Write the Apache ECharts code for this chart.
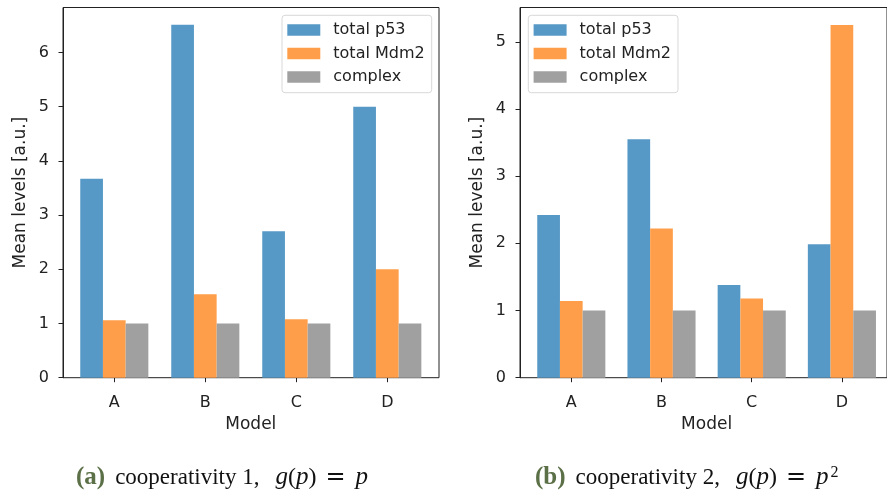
<!DOCTYPE html>
<html>
<head>
<meta charset="utf-8">
<script src="https://cdn.jsdelivr.net/npm/echarts@6/dist/echarts.min.js"></script>
<style>
  html, body { margin: 0; padding: 0; background: #ffffff; }
  #chart { width: 887px; height: 493px; }
</style>
</head>
<body>
<div id="chart"></div>
<script>
// Model variants on the x axis
const models = ['A', 'B', 'C', 'D'];
const seriesNames = ['total p53', 'total Mdm2', 'complex'];

// Panel (a): cooperativity 1
const p53Coop1 = [3.67, 6.51, 2.70, 5.00];
const mdm2Coop1 = [1.06, 1.54, 1.08, 2.00];
const complexCoop1 = [1.00, 1.00, 1.00, 1.00];

// Panel (b): cooperativity 2
const p53Coop2 = [2.42, 3.55, 1.38, 1.985];
const mdm2Coop2 = [1.14, 2.22, 1.18, 5.25];
const complexCoop2 = [1.00, 1.00, 1.00, 1.00];

const colors = ['#5799C6', '#FF9E4A', '#A0A0A0'];
const font = 'DejaVu Sans';

const chart = echarts.init(document.getElementById('chart'), null, { renderer: 'canvas' });

// Each panel uses a framed grid (axes box + y ticks) and an inner grid whose
// category bands are centred on the tick positions.
function panel(frameLeft, dataLeft, yMax) {
  return {
    frame: { left: frameLeft, top: 7.5, width: 376, height: 370.2, show: true,
             borderColor: '#222', borderWidth: 1, backgroundColor: 'transparent' },
    data: { left: dataLeft, top: 7.5, width: 364, height: 370.2 },
    yMax: yMax
  };
}
const panels = [panel(63, 68.8, 6.83), panel(520, 526.2, 5.51)];

const grids = [];
const xAxes = [];
const yAxes = [];
panels.forEach((p, i) => {
  const fi = i * 2, di = i * 2 + 1;
  grids.push(p.frame, p.data);
  xAxes.push(
    { gridIndex: fi, type: 'value', min: 0, max: 1, show: false },
    { gridIndex: di, type: 'category', data: models,
      axisLine: { show: false },
      axisTick: { show: true, alignWithLabel: true, length: 4.5, lineStyle: { color: '#222', width: 1 } },
      axisLabel: { fontFamily: font, fontSize: 16, color: '#222', margin: 17 },
      name: 'Model', nameLocation: 'middle', nameGap: 38,
      nameTextStyle: { fontFamily: font, fontSize: 17, color: '#222' } }
  );
  yAxes.push(
    { gridIndex: fi, type: 'value', min: 0, max: p.yMax, interval: 1,
      axisLine: { show: true, lineStyle: { color: '#222', width: 1 } },
      axisTick: { show: true, length: 4.5, lineStyle: { color: '#222', width: 1 } },
      axisLabel: { fontFamily: font, fontSize: 16, color: '#222', margin: 14,
                   showMaxLabel: false },
      splitLine: { show: false },
      name: 'Mean levels [a.u.]', nameLocation: 'middle', nameGap: 34, nameRotate: 90,
      nameTextStyle: { fontFamily: font, fontSize: 17, color: '#222' } },
    { gridIndex: di, type: 'value', min: 0, max: p.yMax, show: false }
  );
});

function bar(name, values, panelIdx, colorIdx) {
  return {
    name: name, type: 'bar', data: values,
    xAxisIndex: panelIdx * 2 + 1, yAxisIndex: panelIdx * 2 + 1,
    barWidth: 22.7, barGap: '0%',
    itemStyle: { color: colors[colorIdx] },
    emphasis: { disabled: true }
  };
}

function legend(left) {
  return {
    data: seriesNames, orient: 'vertical', left: left, top: 15.3,
    icon: 'rect', itemWidth: 33, itemHeight: 11.3, itemGap: 7.5,
    padding: [6.7, 7, 7.7, 5.3],
    borderColor: '#d8d8d8', borderWidth: 1, borderRadius: 3,
    backgroundColor: 'rgba(255,255,255,0.8)',
    selectedMode: false,
    textStyle: { fontFamily: font, fontSize: 16, color: '#222', lineHeight: 16, padding: [0, 0, 0, 8] }
  };
}

// Sub-figure captions: bold label, roman text, italic math
const capFont = 'Liberation Serif';
const capSize = 23;
const capRich = {
  lab: { fontFamily: capFont, fontSize: 25, fontWeight: 'bold', color: '#5B7047', padding: [0, 10, 0, 0] },
  c: { fontFamily: capFont, fontSize: capSize, fontWeight: 'normal', color: '#111', padding: [0, 16, 0, 0] },
  t: { fontFamily: capFont, fontSize: 24, fontWeight: 'normal', color: '#111' },
  m: { fontFamily: capFont, fontSize: 25, fontWeight: 'normal', fontStyle: 'italic', color: '#111' },
  eq: { fontFamily: 'DejaVu Serif', fontSize: 24, fontWeight: 'normal', color: '#111', padding: [0, 10, 0, 9] },
  sup: { fontFamily: capFont, fontSize: 16, fontWeight: 'normal', color: '#111', verticalAlign: 'top', padding: [0, 0, 8, 2] }
};

chart.setOption({
  animation: false,
  color: colors,
  grid: grids,
  xAxis: xAxes,
  yAxis: yAxes,
  legend: [legend(282), legend(528.3)],
  title: [
    { left: 71, top: 460,
      text: '{lab|(a)}{c|cooperativity 1,}{m|g}{t|(}{m|p}{t|)}{eq|=}{m|p}',
      textStyle: { fontWeight: 'normal', rich: capRich } },
    { left: 530, top: 460,
      text: '{lab|(b)}{c|cooperativity 2,}{m|g}{t|(}{m|p}{t|)}{eq|=}{m|p}{sup|2}',
      textStyle: { fontWeight: 'normal', rich: capRich } }
  ],
  series: [
    bar(seriesNames[0], p53Coop1, 0, 0),
    bar(seriesNames[1], mdm2Coop1, 0, 1),
    bar(seriesNames[2], complexCoop1, 0, 2),
    bar(seriesNames[0], p53Coop2, 1, 0),
    bar(seriesNames[1], mdm2Coop2, 1, 1),
    bar(seriesNames[2], complexCoop2, 1, 2)
  ]
});
</script>
</body>
</html>
